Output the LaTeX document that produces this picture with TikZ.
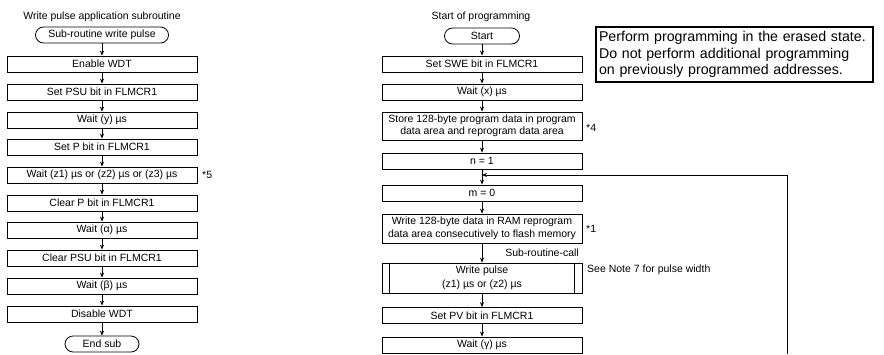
\documentclass[tikz,border=0pt]{standalone}
\usepackage{fontspec}
\setmainfont{Liberation Sans}
\usetikzlibrary{arrows.meta}
\newcommand\fsA{\fontsize{10.5}{12.5}\selectfont}
\newcommand\fsB{\fontsize{14.2}{16.5}\selectfont}
\tikzset{
  boxbase/.style={draw, line width=0.8pt, inner sep=0pt, font=\fsA, align=center, minimum height=16pt},
  lbox/.style={boxbase, minimum width=190pt},
  rbox/.style={boxbase, minimum width=200pt},
  term/.style={boxbase, rounded corners=8pt},
  lbl/.style={inner sep=0pt, font=\fsA},
  flow/.style={draw=black, line width=0.8pt, -{Stealth[length=5pt,width=4pt]}},
  notebox/.style={draw, line width=1.8pt, inner xsep=3pt, inner ysep=2pt, font=\fsB, align=left, minimum width=277pt, minimum height=55pt, text width=271pt}
}
\begin{document}
\begin{tikzpicture}[x=1pt,y=1pt]
\useasboundingbox (0,-354) rectangle (884,0);
% left column
\node[lbl] (t1) at (102,-17) {Write pulse application subroutine};
\node[term, minimum width=133pt] (s0) at (102,-35) {Sub-routine write pulse};
\node[lbox] (l1) at (102,-64) {Enable WDT};
\node[lbox] (l2) at (102,-92) {Set PSU bit in FLMCR1};
\node[lbox] (l3) at (102,-120) {Wait (y) µs};
\node[lbox] (l4) at (102,-147) {Set P bit in FLMCR1};
\node[lbox] (l5) at (102,-175) {Wait (z1) µs or (z2) µs or (z3) µs};
\node[lbox] (l6) at (102,-203) {Clear P bit in FLMCR1};
\node[lbox] (l7) at (102,-230) {Wait (α) µs};
\node[lbox] (l8) at (102,-258) {Clear PSU bit in FLMCR1};
\node[lbox] (l9) at (102,-286) {Wait (β) µs};
\node[lbox] (l10) at (102,-314) {Disable WDT};
\node[term, minimum width=74pt] (l11) at (102,-344) {End sub};
\node[lbl, anchor=west] (a5) at (202,-175) {*5};
\draw[flow] (s0.south) -- (l1.north);
\draw[flow] (l1.south) -- (l2.north);
\draw[flow] (l2.south) -- (l3.north);
\draw[flow] (l3.south) -- (l4.north);
\draw[flow] (l4.south) -- (l5.north);
\draw[flow] (l5.south) -- (l6.north);
\draw[flow] (l6.south) -- (l7.north);
\draw[flow] (l7.south) -- (l8.north);
\draw[flow] (l8.south) -- (l9.north);
\draw[flow] (l9.south) -- (l10.north);
\draw[flow] (l10.south) -- (l11.north);
% right column
\node[lbl] (t2) at (481,-17) {Start of programming};
\node[term, minimum width=75pt] (r0) at (482,-36) {Start};
\node[rbox] (r1) at (482,-64) {Set SWE bit in FLMCR1};
\node[rbox] (r2) at (482,-92) {Wait (x) µs};
\node[rbox, minimum height=28pt] (r3) at (482,-126) {Store 128-byte program data in program\\data area and reprogram data area};
\node[rbox] (r4) at (482,-161) {n = 1};
\coordinate (j) at (482,-175);
\node[rbox] (r5) at (482,-193) {m = 0};
\node[rbox, minimum height=29pt] (r6) at (482,-228.5) {Write 128-byte data in RAM reprogram\\data area consecutively to flash memory};
\node[rbox, minimum height=30pt, font=\fontsize{10.5}{13.5}\selectfont] (r7) at (482,-278) {Write pulse\\(z1) µs or (z2) µs};
\draw[line width=0.8pt] ([xshift=8pt]r7.north west) -- ([xshift=8pt]r7.south west);
\draw[line width=0.8pt] ([xshift=-8pt]r7.north east) -- ([xshift=-8pt]r7.south east);
\node[rbox] (r8) at (482,-315.5) {Set PV bit in FLMCR1};
\node[rbox] (r9) at (482,-345) {Wait (γ) µs};
\draw[flow] (r0.south) -- (r1.north);
\draw[flow] (r1.south) -- (r2.north);
\draw[flow] (r2.south) -- (r3.north);
\draw[flow] (r3.south) -- (r4.north);
\draw[flow] (r4.south) -- (r5.north);
\draw[flow] (r5.south) -- (r6.north);
\draw[flow] (r6.south) -- (r7.north);
\draw[flow] (r7.south) -- (r8.north);
\draw[flow] (r8.south) -- (r9.north);
\coordinate (fb) at (787,-354);
\draw[flow] (fb) |- (j);
\node[lbl, anchor=west] (a4) at (586,-128) {*4};
\node[lbl, anchor=west] (a1) at (586,-229) {*1};
\node[lbl, anchor=east] (call) at (579,-253) {Sub-routine-call};
\node[lbl, anchor=west] (see) at (587,-270) {See Note 7 for pulse width};
\node[notebox] (note) at (734.5,-54.5) {Perform programming in the erased state.\\Do not perform additional programming\\on previously programmed addresses.};
\end{tikzpicture}
\end{document}
